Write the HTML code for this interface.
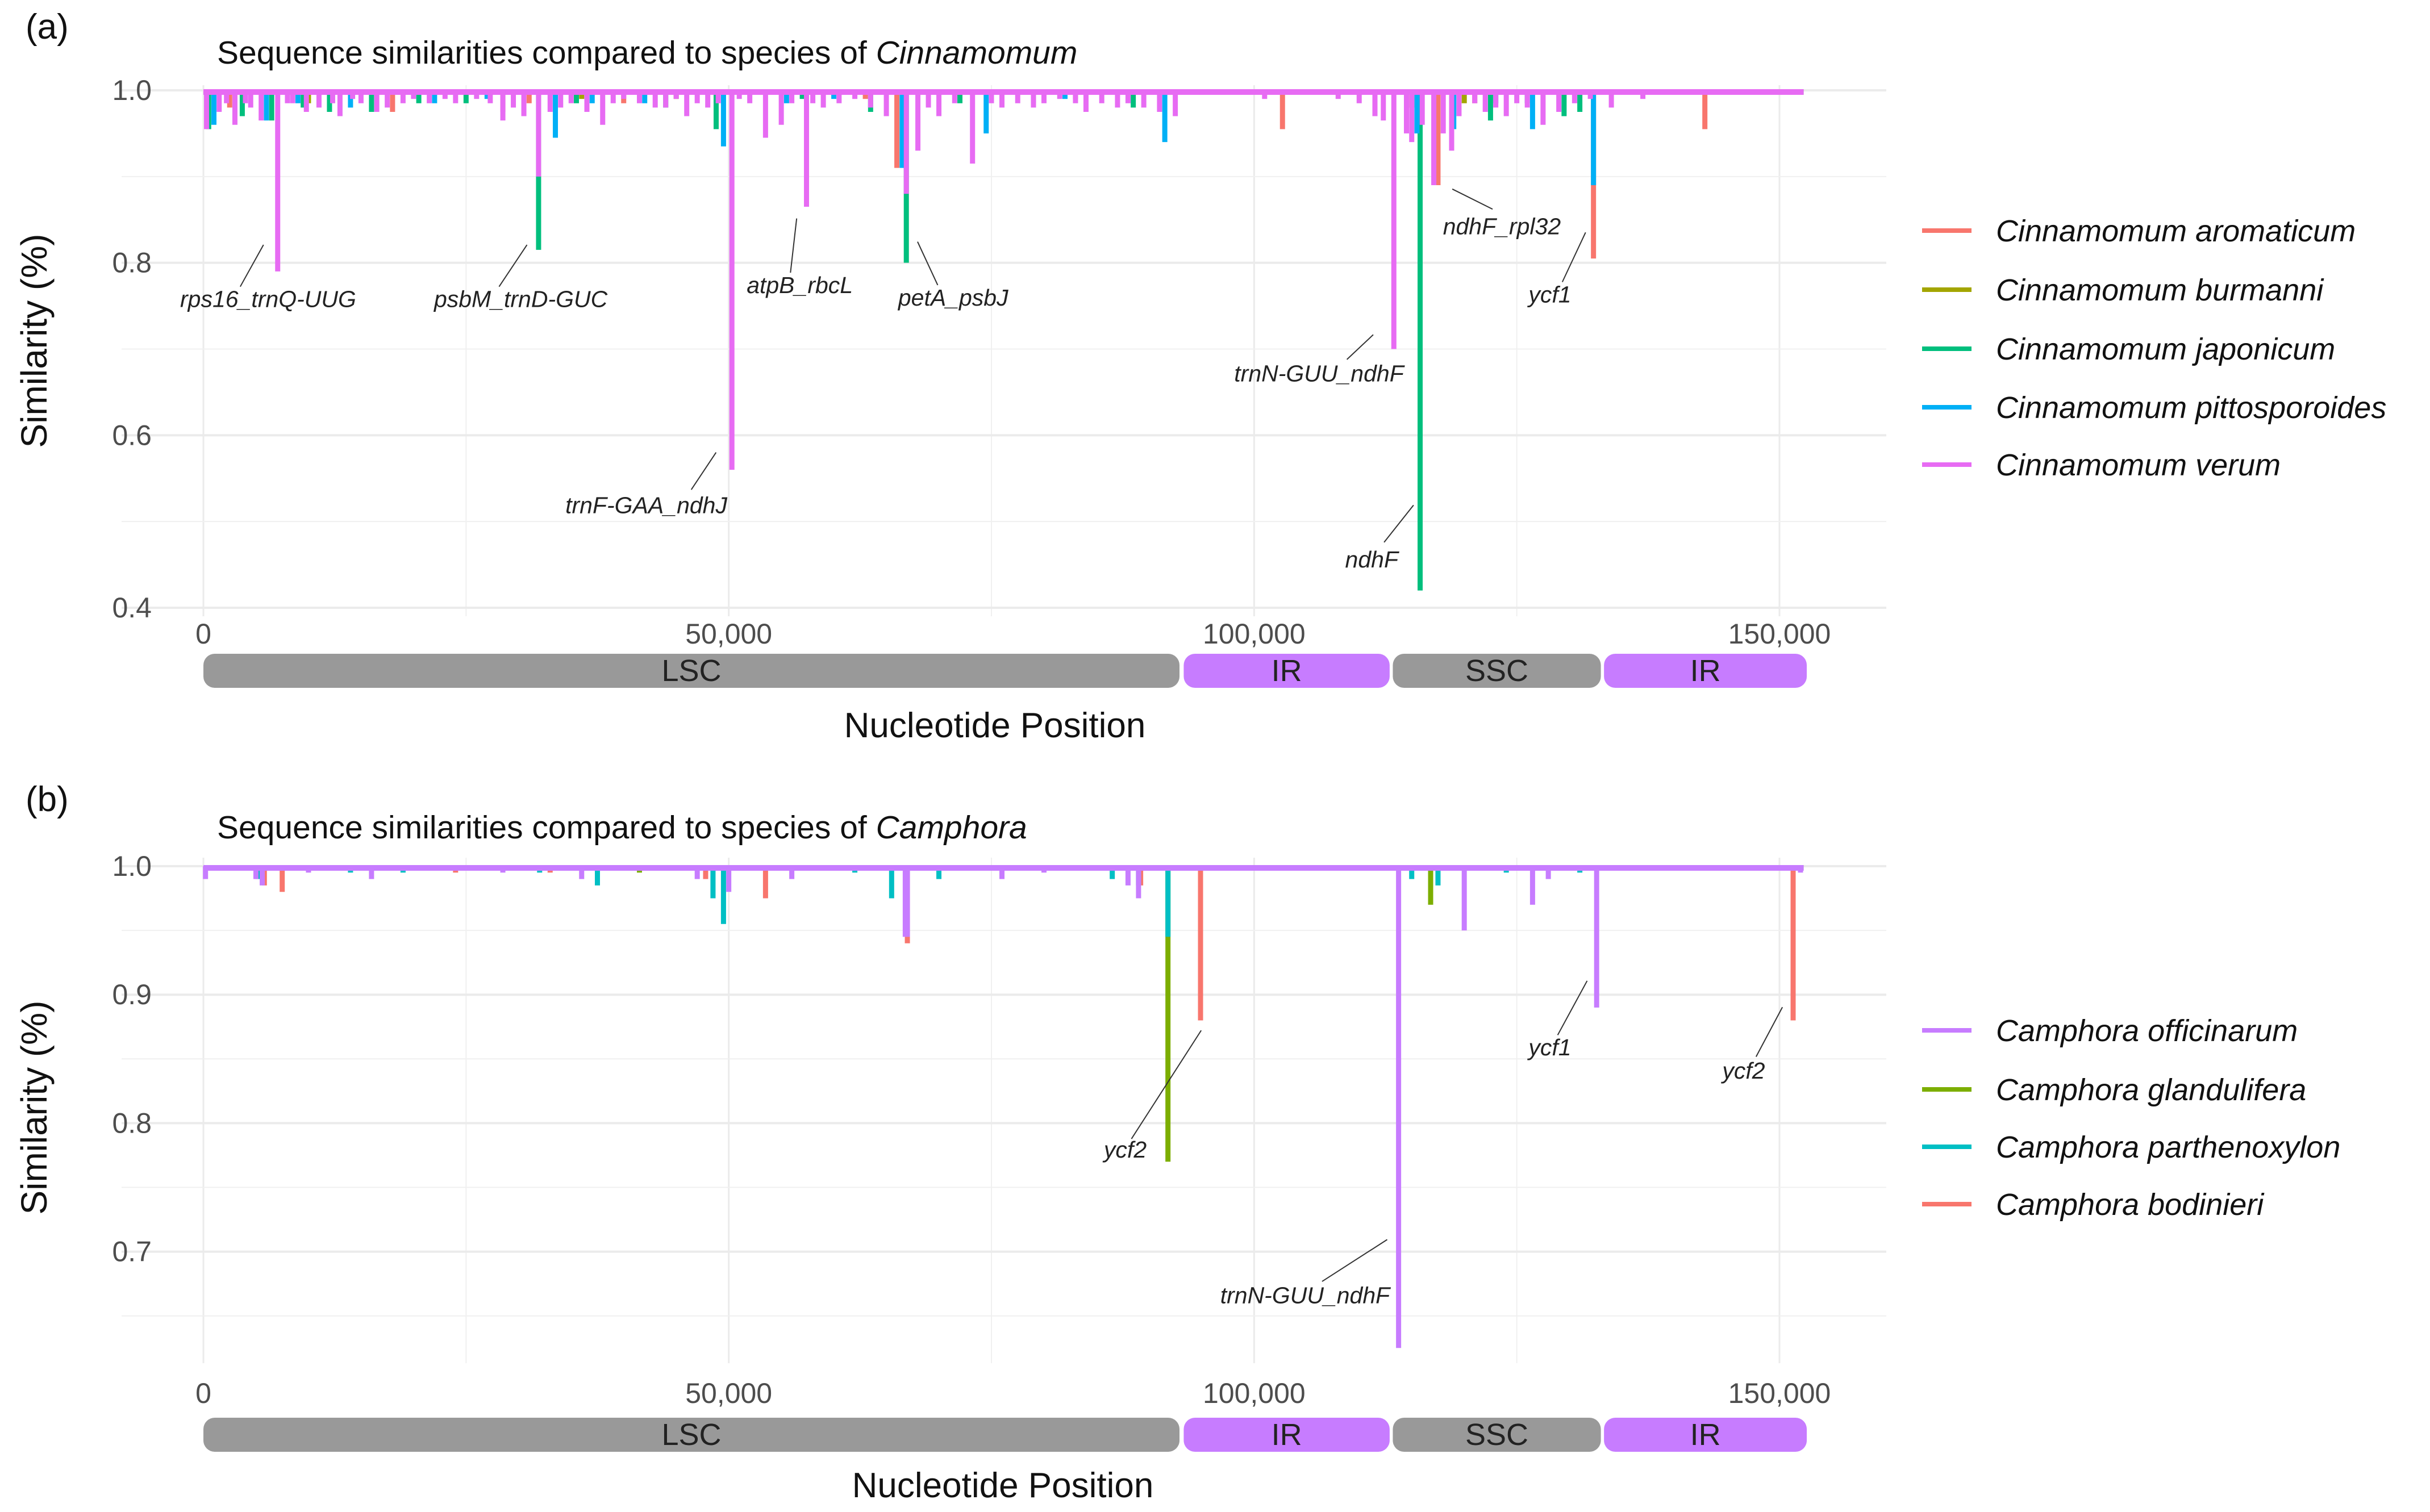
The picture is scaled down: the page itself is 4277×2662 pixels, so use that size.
<!DOCTYPE html>
<html><head><meta charset="utf-8">
<style>
html,body{margin:0;padding:0;background:#fff;}
svg{display:block;font-family:"Liberation Sans",Arial,sans-serif;}
</style></head>
<body>
<svg id="chart" width="4277" height="2662" viewBox="0 0 4277 2662" xmlns="http://www.w3.org/2000/svg">
</svg>
<script>
// ===== Panel (a) data: Cinnamomum (position in kb, similarity) =====
const aromaticumPos = [2.5, 18, 28.5, 31, 40, 63, 66, 102.7, 115, 117.5, 121, 132.3, 142.9];
const aromaticumVal = [0.98, 0.975, 0.975, 0.985, 0.985, 0.99, 0.91, 0.955, 0.98, 0.89, 0.985, 0.805, 0.955];
const burmanniPos = [10, 36, 45, 83, 120];
const burmanniVal = [0.985, 0.99, 0.99, 0.99, 0.985];
const japonicumPos = [0.5, 3.7, 6.5, 9.5, 12, 16, 20.5, 25, 31.9, 35.5, 44, 48.8, 57, 63.5, 66.9, 72, 79, 88.5, 115.8, 122.5, 126, 129.5, 131];
const japonicumVal = [0.955, 0.97, 0.965, 0.98, 0.975, 0.975, 0.985, 0.985, 0.815, 0.985, 0.98, 0.955, 0.99, 0.975, 0.80, 0.985, 0.985, 0.98, 0.42, 0.965, 0.985, 0.97, 0.975];
const pittoPos = [1, 6, 9, 14, 22, 27, 33.5, 37, 42, 49.5, 55.5, 60, 66.5, 74.5, 82, 91.5, 106, 115.5, 119, 123, 126.5, 132.3];
const pittoVal = [0.96, 0.965, 0.985, 0.98, 0.985, 0.99, 0.945, 0.985, 0.985, 0.935, 0.985, 0.99, 0.91, 0.95, 0.99, 0.94, 0.995, 0.95, 0.955, 0.985, 0.955, 0.89];
const verumPos = [0.3, 1.5, 2.2, 3, 4, 4.5, 5.5, 7.07, 8, 8.5, 9.8, 11, 12.3, 13, 14.2, 15, 16.5, 17.5, 19, 20, 21.5, 23, 24, 26, 27.3, 28.5, 29.5, 30.5, 31.9, 33, 34, 35, 36.5, 38, 39, 40, 41.5, 43, 44, 45, 46, 47, 48, 49, 50.3, 51, 52, 53.5, 55, 56, 57.4, 58, 59, 60.5, 62, 63.5, 65, 66.9, 68, 69, 70, 71.5, 73.2, 75, 76, 77.5, 79, 80, 81.5, 83, 84, 85.5, 87, 88, 89.5, 91, 92.5, 95, 97, 101, 108, 110, 111.5, 112.3, 113.3, 114.5, 115, 116, 117.1, 118, 118.8, 119.5, 121, 122, 123, 124, 125, 126, 127.5, 129, 130.5, 132, 134, 137, 140, 150, 151];
const verumVal = [0.955, 0.975, 0.985, 0.96, 0.985, 0.98, 0.965, 0.79, 0.985, 0.985, 0.975, 0.98, 0.985, 0.97, 0.99, 0.985, 0.975, 0.98, 0.985, 0.99, 0.985, 0.99, 0.985, 0.99, 0.985, 0.965, 0.98, 0.97, 0.9, 0.975, 0.98, 0.985, 0.975, 0.96, 0.985, 0.99, 0.985, 0.98, 0.98, 0.99, 0.97, 0.985, 0.98, 0.985, 0.56, 0.99, 0.985, 0.945, 0.96, 0.985, 0.865, 0.985, 0.98, 0.985, 0.99, 0.98, 0.97, 0.88, 0.93, 0.98, 0.97, 0.985, 0.915, 0.985, 0.98, 0.985, 0.98, 0.985, 0.99, 0.985, 0.975, 0.985, 0.98, 0.985, 0.98, 0.975, 0.97, 0.995, 0.995, 0.99, 0.99, 0.985, 0.97, 0.965, 0.70, 0.95, 0.94, 0.96, 0.89, 0.95, 0.93, 0.97, 0.985, 0.975, 0.98, 0.97, 0.985, 0.98, 0.96, 0.975, 0.985, 0.99, 0.98, 0.99, 0.995, 0.995, 0.995];
// ===== Panel (b) data: Camphora =====
const officinarumPos = [0.2, 5, 5.6, 10, 16, 28.5, 36, 47, 50, 56, 66.8, 67, 76, 80, 88, 89, 113.75, 120, 126.5, 128, 132.6, 152];
const officinarumVal = [0.99, 0.99, 0.985, 0.995, 0.99, 0.995, 0.99, 0.99, 0.98, 0.99, 0.945, 0.945, 0.99, 0.995, 0.985, 0.975, 0.625, 0.95, 0.97, 0.99, 0.89, 0.995];
const glanduliferaPos = [41.5, 91.8, 116.8];
const glanduliferaVal = [0.995, 0.77, 0.97];
const parthenoxylonPos = [5.2, 14, 19, 32, 37.5, 48.5, 49.5, 62, 65.5, 70, 86.5, 89, 91.8, 115, 117.5, 124, 131];
const parthenoxylonVal = [0.99, 0.995, 0.995, 0.995, 0.985, 0.975, 0.955, 0.995, 0.975, 0.99, 0.99, 0.985, 0.945, 0.99, 0.985, 0.995, 0.995];
const bodinieriPos = [5.8, 7.5, 24, 33, 47.8, 53.5, 67, 89.2, 94.9, 151.3];
const bodinieriVal = [0.985, 0.98, 0.995, 0.995, 0.99, 0.975, 0.94, 0.985, 0.88, 0.88];

const xTicks = [0, 50000, 100000, 150000];
const xTickLabels = ["0", "50,000", "100,000", "150,000"];
const yTicksA = [1.0, 0.8, 0.6, 0.4];
const yTicksB = [1.0, 0.9, 0.8, 0.7];
const regions = ["LSC", "IR", "SSC", "IR"];
const regionStart = [0, 93300, 113200, 133300];
const regionEnd = [92900, 112900, 133000, 152600];

const NS = "http://www.w3.org/2000/svg";
const svg = document.getElementById("chart");
function el(tag, attrs, parent, text) {
  const e = document.createElementNS(NS, tag);
  for (const k in attrs) e.setAttribute(k, attrs[k]);
  if (text !== undefined) e.textContent = text;
  (parent || svg).appendChild(e);
  return e;
}
const S = 2.728;
const xs = v => 358 + v / 150000 * 2774;          // bp -> px
const xk = v => xs(v * 1000);                      // kb -> px
const ysA = v => 159 + (1 - v) / 0.6 * 911;
const ysB = v => 1525 + (1 - v) * 2262;

function panel(cfg) {
  const g = el("g", {});
  
  
  [25000, 75000, 125000].forEach(v => {
    const l = el("line", {x1: xs(v), x2: xs(v), y1: cfg.top, y2: cfg.bottom, stroke: "#f0f0f0", "stroke-width": 2}, g);
    
    
  });
  xTicks.forEach(v => {
    const l = el("line", {x1: xs(v), x2: xs(v), y1: cfg.top, y2: cfg.bottom, stroke: "#ebebeb", "stroke-width": 3}, g);
    
    
  });
  cfg.minorY.forEach(v => {
    const l = el("line", {x1: 214, x2: 3320, y1: cfg.ys(v), y2: cfg.ys(v), stroke: "#f0f0f0", "stroke-width": 2}, g);
    
    
  });
  cfg.yTicks.forEach(v => {
    const l = el("line", {x1: 214, x2: 3320, y1: cfg.ys(v), y2: cfg.ys(v), stroke: "#ebebeb", "stroke-width": 4}, g);
    
    
    const t = el("text", {x: 267, y: cfg.ys(v) + 17, "text-anchor": "end", "font-size": 50, fill: "#4d4d4d"}, g, v.toFixed(1));
    
    
  });
  xTicks.forEach((v, i) => {
    const t = el("text", {x: xs(v), y: cfg.xLabY, "text-anchor": "middle", "font-size": 50, fill: "#4d4d4d"}, g, xTickLabels[i]);
    
    
  });
  cfg.series.forEach(s => {
    const sg = el("g", {}, g);
    
    
    const base = el("line", {x1: xk(0), x2: xk(152.3), y1: cfg.ys(1) + 3, y2: cfg.ys(1) + 3, stroke: s.color, "stroke-width": 10}, sg);
    
    
    s.pos.forEach((p, i) => {
      const sp = el("line", {x1: xk(p), x2: xk(p), y1: cfg.ys(1), y2: cfg.ys(s.val[i]), stroke: s.color, "stroke-width": 9}, sg);
      
      
    });
  });
  regions.forEach((r, i) => {
    const x1 = xs(regionStart[i]), x2 = xs(regionEnd[i]);
    const fill = r === "IR" ? "#c77cff" : "#999999";
    const rc = el("rect", {x: x1, y: cfg.barY, width: x2 - x1, height: 60, rx: 20, fill: fill}, g);
    
    
    const t = el("text", {x: (x1 + x2) / 2, y: cfg.barY + 48, "text-anchor": "middle", "font-size": 54, fill: "#222"}, g, r);
    
    
  });
  const xt = el("text", {x: cfg.xTitleX, y: cfg.xTitleY, "text-anchor": "middle", "font-size": 62, fill: "#111"}, g, "Nucleotide Position");
  
  
  const yt = el("text", {x: 0, y: 0, transform: `translate(82,${cfg.yTitleY}) rotate(-90)`, "text-anchor": "middle", "font-size": 64, fill: "#111"}, g, "Similarity (%)");
  
  
  const pl = el("text", {x: 45, y: cfg.labelY, "font-size": 62, fill: "#111"}, g, cfg.label);
  
  
  const tt = el("text", {x: 382, y: cfg.titleY, "font-size": 57, fill: "#111"}, g);
  
  
  el("tspan", {}, tt, "Sequence similarities compared to species of ");
  el("tspan", {"font-style": "italic"}, tt, cfg.genus);
  cfg.ann.forEach(a => {
    const ln = el("line", {x1: a[1] * S, y1: a[2] * S, x2: a[3] * S, y2: a[4] * S, stroke: "#333", "stroke-width": 2}, g);
    
    
    const t = el("text", {x: a[5] * S, y: a[6] * S + 14, "text-anchor": "middle", "font-size": 41, "font-style": "italic", fill: "#222"}, g, a[0]);
    
    
  });
  cfg.series.slice().sort((a, b) => a.order - b.order).forEach((s, i) => {
    const y = cfg.legY[i];
    const lg = el("g", {}, g);
    
    
    el("line", {x1: 3383, x2: 3470, y1: y, y2: y, stroke: s.color, "stroke-width": 8}, lg);
    el("text", {x: 3513, y: y + 19, "font-size": 54, "font-style": "italic", fill: "#111"}, lg, s.name);
  });
}

panel({
  name: "panel-a", label: "(a)", labelY: 68, titleY: 112, genus: "Cinnamomum",
  ys: ysA, top: 150, bottom: 1085, yTicks: yTicksA, minorY: [0.9, 0.7, 0.5], xLabY: 1133,
  barY: 1151, xTitleX: 1751, xTitleY: 1298, yTitleY: 600,
  series: [
    {key: "aromaticum", name: "Cinnamomum aromaticum", color: "#F8766D", pos: aromaticumPos, val: aromaticumVal, order: 0},
    {key: "burmanni", name: "Cinnamomum burmanni", color: "#A3A500", pos: burmanniPos, val: burmanniVal, order: 1},
    {key: "japonicum", name: "Cinnamomum japonicum", color: "#00BF7D", pos: japonicumPos, val: japonicumVal, order: 2},
    {key: "pittosporoides", name: "Cinnamomum pittosporoides", color: "#00B0F6", pos: pittoPos, val: pittoVal, order: 3},
    {key: "verum", name: "Cinnamomum verum", color: "#E76BF3", pos: verumPos, val: verumVal, order: 4}
  ],
  legY: [406, 510, 614, 717, 818],
  ann: [
    ["rps16_trnQ-UUG", 155, 185, 170, 158, 173, 193],
    ["psbM_trnD-GUC", 322, 185, 340, 158, 336, 193],
    ["trnF-GAA_ndhJ", 446, 316, 462, 292, 417, 326],
    ["atpB_rbcL", 510, 176, 514, 141, 516, 184],
    ["petA_psbJ", 605, 184, 592, 156, 615, 192],
    ["trnN-GUU_ndhF", 869, 232, 886, 216, 851, 241],
    ["ndhF", 893, 350, 912, 326, 885, 361],
    ["ndhF_rpl32", 963, 135, 937, 122, 969, 146],
    ["ycf1", 1008, 182, 1023, 150, 1000, 190]
  ]
});

panel({
  name: "panel-b", label: "(b)", labelY: 1428, titleY: 1476, genus: "Camphora",
  ys: ysB, top: 1510, bottom: 2400, yTicks: yTicksB, minorY: [0.95, 0.85, 0.75, 0.65], xLabY: 2470,
  barY: 2496, xTitleX: 1765, xTitleY: 2636, yTitleY: 1950,
  series: [
    {key: "bodinieri", name: "Camphora bodinieri", color: "#F8766D", pos: bodinieriPos, val: bodinieriVal, order: 3},
    {key: "glandulifera", name: "Camphora glandulifera", color: "#7CAE00", pos: glanduliferaPos, val: glanduliferaVal, order: 1},
    {key: "parthenoxylon", name: "Camphora parthenoxylon", color: "#00BFC4", pos: parthenoxylonPos, val: parthenoxylonVal, order: 2},
    {key: "officinarum", name: "Camphora officinarum", color: "#C77CFF", pos: officinarumPos, val: officinarumVal, order: 0}
  ],
  legY: [1814, 1918, 2019, 2120],
  ann: [
    ["ycf2", 730, 735, 775, 665, 726, 742],
    ["trnN-GUU_ndhF", 853, 827, 895, 800, 842, 836],
    ["ycf1", 1005, 668, 1024, 633, 1000, 676],
    ["ycf2", 1133, 682, 1150, 650, 1125, 691]
  ]
});
</script>
</body></html>
